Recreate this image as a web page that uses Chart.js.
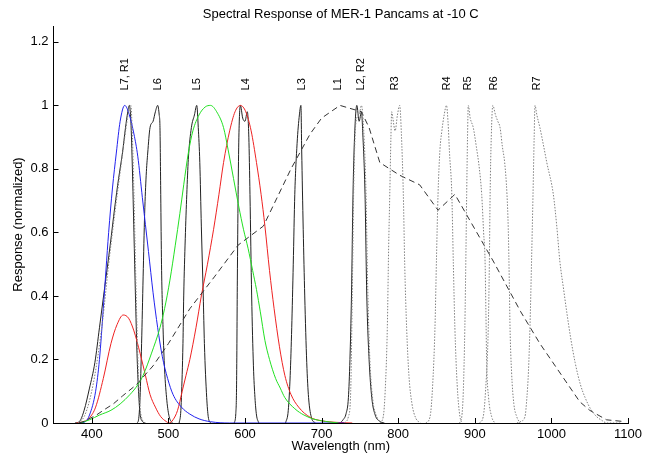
<!DOCTYPE html>
<html><head><meta charset="utf-8">
<script src="https://cdn.jsdelivr.net/npm/chart.js@4.4.1/dist/chart.umd.min.js"></script>
<style>html,body{margin:0;padding:0;background:#fff;}canvas{display:block;}</style>
</head><body>
<canvas id="c" width="647" height="455"></canvas>
<script>
// ---- text ----
const chartTitle = 'Spectral Response of MER-1 Pancams at -10 C';
const xTitle = 'Wavelength (nm)';
const yTitle = 'Response (normalized)';

// ---- axis ticks ----
const xTicks = [400, 500, 600, 700, 800, 900, 1000, 1100];
const yTicks = [0, 0.2, 0.4, 0.6, 0.8, 1, 1.2];

// ---- filter labels (wavelength position of each label) ----
const filterLabels = ['L7, R1', 'L6', 'L5', 'L4', 'L3', 'L1', 'L2, R2', 'R3', 'R4', 'R5', 'R6', 'R7'];
const filterLabelWl = [443, 486, 537, 601, 674, 721, 752, 796, 864, 891, 925, 981];
const filterLabelBase = 1.047;

// ---- response curves: [wavelength nm, normalized response] ----
const blueBand = [[385,0],[392,0.005],[397,0.025],[405,0.1],[410,0.2],[415,0.36],[422,0.6],[427,0.74],[432,0.85],[437,0.95],[443,1.0],[449,0.97],[455,0.91],[460,0.84],[466,0.71],[474,0.54],[480,0.41],[486,0.3],[492,0.21],[499,0.14],[506,0.09],[517,0.05],[528,0.028],[540,0.013],[555,0.004],[580,0],[730,0]];
const greenBand = [[385,0],[397,0.01],[410,0.025],[425,0.04],[437,0.06],[450,0.09],[460,0.12],[467,0.15],[478,0.22],[489,0.3],[495,0.36],[502,0.45],[509,0.56],[515,0.66],[520,0.75],[526,0.85],[532,0.92],[540,0.97],[548,0.995],[555,1.0],[563,0.98],[572,0.93],[578,0.86],[585,0.77],[592,0.68],[598,0.61],[604,0.55],[610,0.48],[615,0.42],[620,0.35],[626,0.26],[632,0.2],[640,0.14],[646,0.11],[652,0.08],[665,0.045],[677,0.025],[690,0.012],[705,0.005],[722,0]];
const redBand = [[380,0],[390,0.005],[397,0.016],[405,0.05],[415,0.14],[425,0.25],[433,0.31],[441,0.34],[448,0.33],[455,0.29],[463,0.22],[470,0.15],[476,0.09],[483,0.05],[490,0.02],[497,0.005],[501,0],[506,0.01],[512,0.04],[518,0.1],[523,0.15],[528,0.2],[536,0.3],[543,0.4],[551,0.5],[559,0.61],[566,0.72],[572,0.82],[580,0.92],[587,0.98],[594,1.0],[601,0.98],[608,0.92],[615,0.82],[621,0.72],[626,0.62],[632,0.48],[638,0.36],[645,0.24],[652,0.15],[660,0.09],[670,0.05],[685,0.018],[700,0.007],[720,0.002],[740,0]];
const dashedL1 = [[383,0],[390,0.005],[398,0.015],[406,0.025],[415,0.04],[428,0.06],[440,0.085],[458,0.12],[480,0.18],[500,0.25],[528,0.36],[560,0.46],[591,0.56],[624,0.62],[660,0.8],[685,0.91],[700,0.96],[724,1.0],[752,0.98],[762,0.93],[776,0.82],[802,0.78],[828,0.75],[852,0.67],[874,0.72],[924,0.51],[960,0.35],[985,0.25],[1037,0.067],[1050,0.04],[1072,0.01],[1093,0.005]];
const curveL7 = [[378,0],[384,0.005],[390,0.04],[397,0.11],[404,0.19],[410,0.3],[417,0.43],[424,0.56],[430,0.68],[435,0.77],[440,0.85],[444,0.93],[447,0.98],[449,1.0],[451,0.95],[453,0.8],[455,0.6],[457,0.4],[459,0.22],[461,0.1],[463,0.03],[466,0.005],[470,0]];
const curveL6 = [[459,0],[461,0.01],[463,0.08],[465,0.25],[467,0.46],[469,0.66],[471,0.78],[473,0.85],[476,0.93],[480,0.95],[483,0.98],[486,1.0],[488,0.97],[489,0.93],[490,0.72],[491,0.5],[493,0.3],[495,0.17],[498,0.07],[501,0.02],[505,0]];
const curveL5 = [[514,0],[516,0.03],[517,0.08],[519,0.25],[520,0.4],[522,0.58],[524,0.72],[526,0.83],[530,0.93],[534,0.97],[537,1.0],[539,0.93],[541,0.82],[543,0.62],[545.5,0.4],[547,0.25],[550,0.08],[552,0.02],[555,0]];
const curveL4 = [[586,0],[588,0.03],[589,0.12],[590,0.45],[591,0.72],[592,0.9],[594,1.0],[597,0.96],[600,0.95],[603,0.98],[605,0.9],[606.5,0.72],[608.7,0.4],[611,0.18],[613,0.08],[615,0.025],[618,0]];
const curveL3 = [[653,0],[656.5,0.04],[659,0.15],[661,0.3],[663,0.5],[665,0.72],[668,0.88],[671,0.97],[673,1.0],[674,0.86],[676,0.61],[678,0.4],[680.6,0.19],[683,0.08],[687,0.015],[692,0]];
const curveL2 = [[724,0],[728,0.01],[732,0.03],[735,0.08],[737,0.2],[739,0.4],[741,0.72],[743,0.9],[746,1.0],[749,0.95],[752,0.98],[754,0.9],[756.7,0.72],[759,0.4],[762,0.2],[765.5,0.08],[770,0.025],[776,0.005],[782,0]];
const curveR1 = [[382,0],[390,0.02],[398,0.08],[406,0.18],[414,0.32],[422,0.5],[430,0.66],[437,0.79],[443,0.9],[448,0.98],[451,1.0],[453,0.9],[455,0.72],[457,0.5],[459,0.3],[461,0.14],[463,0.05],[466,0.01],[470,0]];
const curveR2 = [[730,0],[735,0.02],[738,0.1],[740,0.4],[742,0.75],[745,0.95],[749,0.97],[752,1.0],[755,0.92],[758,0.72],[760,0.45],[763,0.2],[767,0.07],[772,0.02],[778,0]];
const curveR3 = [[776,0],[780.5,0.02],[783,0.1],[785.8,0.3],[787.5,0.55],[789,0.72],[790.5,0.9],[791.5,0.98],[793,0.96],[796,0.92],[799,0.97],[802,1.0],[804,0.92],[806.7,0.72],[808.5,0.5],[811,0.3],[814,0.15],[818,0.06],[823,0.015],[829,0]];
const curveR4 = [[836,0],[841.6,0.02],[845,0.12],[848,0.3],[850,0.52],[852,0.72],[854.5,0.86],[857,0.92],[860,0.97],[863,1.0],[865,0.95],[867,0.85],[870,0.72],[872,0.5],[874,0.3],[877,0.12],[880.6,0.02],[884,0]];
const curveR5 = [[880,0],[883,0.02],[885,0.1],[887,0.3],[888.5,0.55],[889.4,0.72],[890.5,0.9],[891.5,1.0],[894,0.96],[898,0.93],[902,0.87],[906,0.8],[909,0.72],[911.5,0.6],[913.4,0.51],[914.5,0.35],[915.5,0.19],[918,0.08],[922,0.02],[926,0]];
const curveR6 = [[906,0],[911,0.02],[914,0.1],[917.6,0.3],[919,0.5],[920,0.72],[921.5,0.9],[923.5,1.0],[927,0.97],[930,0.95],[933,0.93],[936,0.87],[939,0.82],[942,0.72],[943.7,0.61],[945,0.45],[946,0.3],[948,0.16],[951,0.06],[954.7,0.02],[959,0]];
const curveR7 = [[955,0],[960,0.005],[965.5,0.02],[968,0.08],[970,0.16],[972,0.3],[974,0.5],[976,0.72],[977.5,0.9],[978.6,1.0],[981,0.97],[985,0.93],[990,0.87],[994,0.82],[1002.5,0.72],[1007,0.62],[1011,0.51],[1016,0.42],[1020,0.35],[1025,0.27],[1031,0.19],[1038,0.12],[1044,0.08],[1051,0.045],[1059,0.02],[1066,0.008],[1072,0],[1090,0]];

const FONT = '"Liberation Sans", Arial, Helvetica, sans-serif';
const pts = a => a.map(p => ({x: p[0], y: p[1]}));
function ds(label, arr, color, dash, smooth) {
  return {
    label, data: pts(arr), borderColor: color, borderWidth: 1, borderDash: dash || [],
    pointRadius: 0, fill: false,
    tension: smooth ? 0.4 : 0, cubicInterpolationMode: smooth ? 'monotone' : 'default'
  };
}
const DOT = [1.5, 1.5];
const datasets = [
  ds('R1', curveR1, '#808080', DOT, true),
  ds('R2', curveR2, '#808080', DOT, true),
  ds('R3', curveR3, '#808080', DOT, true),
  ds('R4', curveR4, '#808080', DOT, true),
  ds('R5', curveR5, '#808080', DOT, true),
  ds('R6', curveR6, '#808080', DOT, true),
  ds('R7', curveR7, '#808080', DOT, true),
  ds('L1', dashedL1, '#333333', [6, 4], false),
  ds('Green', greenBand, '#22e022', null, true),
  ds('Blue', blueBand, '#2222ee', null, true),
  ds('Red', redBand, '#ee2222', null, true),
  ds('L7', curveL7, '#222222', null, true),
  ds('L6', curveL6, '#222222', null, true),
  ds('L5', curveL5, '#222222', null, true),
  ds('L4', curveL4, '#222222', null, true),
  ds('L3', curveL3, '#222222', null, true),
  ds('L2', curveL2, '#222222', null, true)
];

const decor = {
  id: 'decor',
  afterDraw(chart) {
    const {ctx, chartArea: ca, scales: {x, y}} = chart;
    ctx.save();
    ctx.strokeStyle = '#000';
    ctx.lineWidth = 1;
    ctx.beginPath();
    xTicks.forEach(v => {
      const px = Math.round(x.getPixelForValue(v)) + 0.5;
      ctx.moveTo(px, ca.bottom); ctx.lineTo(px, ca.bottom - 5);
    });
    yTicks.forEach(v => {
      const py = Math.round(y.getPixelForValue(v)) + 0.5;
      ctx.moveTo(ca.left, py); ctx.lineTo(ca.left + 5, py);
    });
    ctx.stroke();
    ctx.fillStyle = '#000';
    // title centred over the plot area
    ctx.font = '13px ' + FONT;
    ctx.textAlign = 'center';
    ctx.textBaseline = 'middle';
    ctx.fillText(chartTitle, (ca.left + ca.right) / 2, 14);
    // filter labels
    ctx.font = '11px ' + FONT;
    ctx.textAlign = 'left';
    ctx.textBaseline = 'middle';
    filterLabels.forEach((t, i) => {
      const px = x.getPixelForValue(filterLabelWl[i]);
      const py = y.getPixelForValue(filterLabelBase);
      ctx.save();
      ctx.translate(px, py);
      ctx.rotate(-Math.PI / 2);
      ctx.fillText(t, 0, 0);
      ctx.restore();
    });
    ctx.restore();
  }
};

new Chart(document.getElementById('c'), {
  type: 'line',
  data: {datasets},
  options: {
    responsive: false, animation: false, devicePixelRatio: 1,
    layout: {padding: {left: 0, right: 19, top: 26, bottom: 0}},
    plugins: {
      legend: {display: false}, tooltip: {enabled: false}, title: {display: false}
    },
    scales: {
      x: {
        type: 'linear', min: 350, max: 1100,
        grid: {display: false, drawTicks: false},
        border: {display: true, color: '#000', width: 1},
        afterBuildTicks: s => { s.ticks = xTicks.map(v => ({value: v})); },
        afterFit: s => { s.height = 32; },
        ticks: {color: '#000', font: {family: FONT, size: 13}, padding: 4, maxRotation: 0, autoSkip: false, callback: v => String(v)},
        title: {display: true, text: xTitle, color: '#000', font: {family: FONT, size: 13}, padding: {top: 0, bottom: 0.5}}
      },
      y: {
        type: 'linear', min: 0, max: 1.25,
        grid: {display: false, drawTicks: false},
        border: {display: true, color: '#000', width: 1},
        afterBuildTicks: s => { s.ticks = yTicks.map(v => ({value: v})); },
        afterFit: s => { s.width = 53.5; },
        ticks: {color: '#000', font: {family: FONT, size: 13}, padding: 5, callback: v => String(v)},
        title: {display: true, text: yTitle, color: '#000', font: {family: FONT, size: 13}, padding: {top: 11, bottom: 0}}
      }
    }
  },
  plugins: [decor]
});
</script>
</body></html>
